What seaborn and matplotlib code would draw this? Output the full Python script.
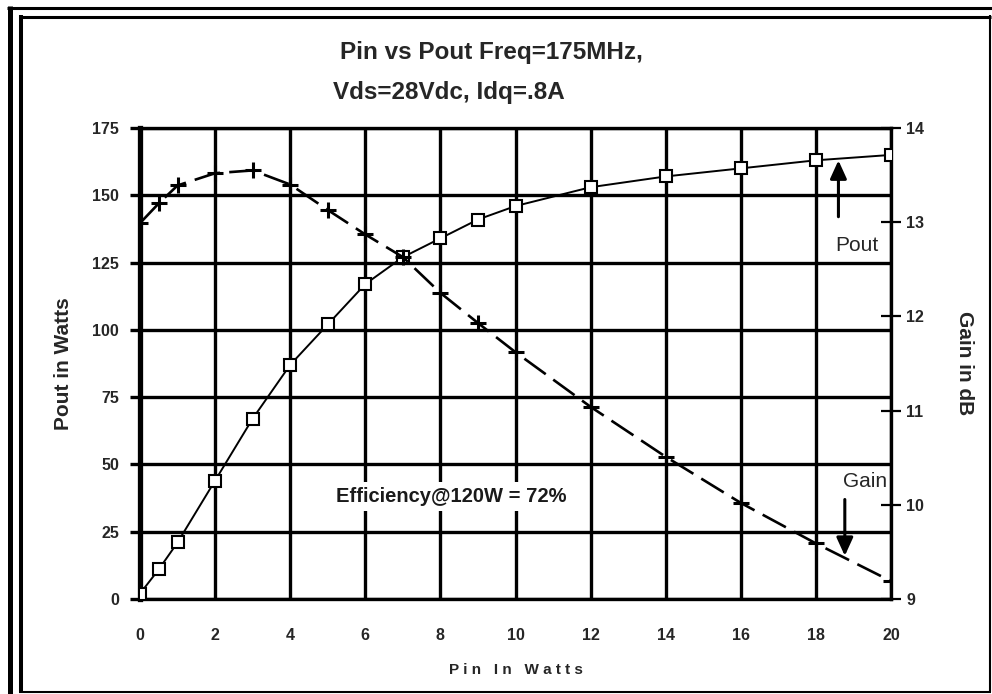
import matplotlib
matplotlib.use("Agg")
import matplotlib.pyplot as plt
import seaborn as sns
import pandas as pd
from matplotlib.lines import Line2D

pin = [0, 0.5, 1, 2, 3, 4, 5, 6, 7, 8, 9, 10, 12, 14, 16, 18, 20]
pout = [2, 11, 21, 44, 67, 87, 102, 117, 127, 134, 141, 146, 153, 157, 160, 163, 165]
gain = [12.99, 13.2, 13.39, 13.52, 13.55, 13.4, 13.13, 12.87, 12.63, 12.25, 11.93,
        11.62, 11.04, 10.51, 10.02, 9.59, 9.19]
x_ticks = [0, 2, 4, 6, 8, 10, 12, 14, 16, 18, 20]
left_ticks = [0, 25, 50, 75, 100, 125, 150, 175]
right_ticks = [9, 10, 11, 12, 13, 14]

df = pd.DataFrame({"pin": pin, "pout": pout, "gain": gain})

sns.set_style("white")
plt.rcParams["font.family"] = ["Liberation Sans", "DejaVu Sans"]

fig = plt.figure(figsize=(9.92, 6.94), dpi=100)
ax = fig.add_axes([140 / 992, 1 - 599 / 694, 751 / 992, 471 / 694])
ax2 = ax.twinx()

# grid
ax.set_axisbelow(True)
ax.grid(True, color="black", lw=2.4)
ax.set_xlim(0, 20)
ax.set_ylim(0, 175)
ax.set_xticks(x_ticks)
ax.set_yticks(left_ticks)
for s in ax.spines.values():
    s.set_color("black")
    s.set_linewidth(2.4)
ax.spines["left"].set_linewidth(3.8)
ax.tick_params(axis="x", which="major", direction="out", length=7, width=2.4,
               color="black", labelsize=11.5, pad=14)
ax.tick_params(axis="y", which="major", direction="out", length=7, width=2.4,
               color="black", labelsize=11.5, pad=8)
for lab in ax.get_xticklabels() + ax.get_yticklabels():
    lab.set_fontweight("bold")

sns.lineplot(data=df, x="pin", y="pout", ax=ax, color="black", lw=1.4,
             marker="s", markersize=9, markerfacecolor="white",
             markeredgecolor="black", markeredgewidth=1.5, zorder=5)

sns.lineplot(data=df, x="pin", y="gain", ax=ax2, color="black", lw=1.9,
             linestyle=(0, (10, 3.5)), marker="+", markersize=11,
             markeredgecolor="black", markeredgewidth=2.2, zorder=5)
ax2.set_ylim(9, 14)
ax2.set_yticks(right_ticks)
ax2.grid(False)
for s in ax2.spines.values():
    s.set_visible(False)
ax2.tick_params(axis="y", direction="inout", length=14, width=1.6, color="black",
                labelsize=11.5, pad=4)
for lab in ax2.get_yticklabels():
    lab.set_fontweight("bold")

ax.set_xlabel("P i n   I n   W a t t s", fontsize=11, fontweight="bold", labelpad=14)
ax.set_ylabel("Pout in Watts", fontsize=15, fontweight="bold", labelpad=14)
ax2.set_ylabel("Gain in dB", fontsize=15, fontweight="bold", rotation=270, labelpad=36)

# annotations
ax.text(8.3, 38, "Efficiency@120W = 72%", ha="center", va="center", fontsize=14.5,
        fontweight="bold", color="#1a1a1a",
        bbox=dict(boxstyle="square,pad=0.25", fc="white", ec="none"), zorder=6)
ax.text(19.1, 131.5, "Pout", ha="center", va="center", fontsize=15, zorder=6)
ax.annotate("", xy=(18.6, 164), xytext=(18.6, 141),
            arrowprops=dict(arrowstyle="-|>,head_length=1.1,head_width=0.5",
                            color="black", lw=2.2), zorder=6)
ax.text(19.3, 43.5, "Gain", ha="center", va="center", fontsize=15, zorder=6)
ax.annotate("", xy=(18.77, 15), xytext=(18.77, 38),
            arrowprops=dict(arrowstyle="-|>,head_length=1.1,head_width=0.5",
                            color="black", lw=2.2), zorder=6)

# title
fig.text(340 / 992, 1 - 52 / 694, "Pin vs Pout Freq=175MHz,", ha="left", va="center",
         fontsize=17.5, fontweight="bold")
fig.text(333 / 992, 1 - 92 / 694, "Vds=28Vdc, Idq=.8A", ha="left", va="center",
         fontsize=17.5, fontweight="bold")

# frame
W, H = 992, 694
def fl(x0, y0, x1, y1, lw):
    fig.add_artist(Line2D([x0 / W, x1 / W], [1 - y0 / H, 1 - y1 / H],
                          transform=fig.transFigure, color="black", lw=lw,
                          solid_capstyle="butt"))
fl(9.5, 6, 9.5, 694, 3.6)
fl(7, 7.5, 992, 7.5, 2.2)
fl(21, 15, 21, 692, 2.9)
fl(19, 16.5, 991, 16.5, 2.2)
fl(990, 15, 990, 692, 1.5)
fl(19, 692, 991, 692, 1.5)

fig.savefig("out.png", dpi=100)
